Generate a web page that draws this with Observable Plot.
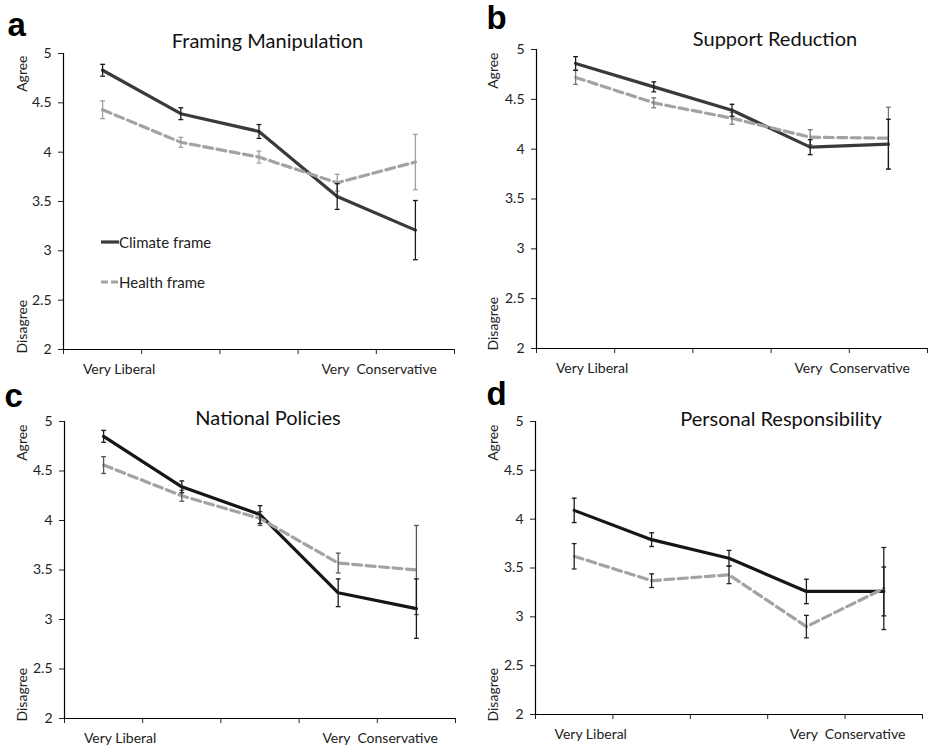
<!DOCTYPE html>
<html><head><meta charset="utf-8">
<script src="https://cdn.jsdelivr.net/npm/d3@7"></script>
<script src="https://cdn.jsdelivr.net/npm/@observablehq/plot@0.6"></script>
<style>
body{margin:0;background:#fff;}
#root{position:relative;width:928px;height:749px;overflow:hidden;font-family:Lato,sans-serif;background:#fff;}
.panel{position:absolute;}
.legend{position:absolute;font-family:Lato,sans-serif;font-size:15px;color:#222;display:flex;align-items:center;height:20px;white-space:nowrap;}
.legend svg{display:block;}
</style></head><body><div id="root"></div>
<script>
// ---- data ----
const levels = [1, 2, 3, 4, 5];
const xBoundaries = [0.5, 1.5, 2.5, 3.5, 4.5, 5.5];
const yTicks = [2, 2.5, 3, 3.5, 4, 4.5, 5];
const xLabels = ["Very Liberal", "Very\u00a0 Conservative"];
const scaleLabels = ["Agree", "Disagree"];
const panelLetters = ["a", "b", "c", "d"];
const panelTitles = ["Framing Manipulation", "Support Reduction", "National Policies", "Personal Responsibility"];
const seriesNames = ["Climate frame", "Health frame"];

const climateMeanA = [4.83, 4.39, 4.21, 3.55, 3.21];
const climateErrA  = [0.06, 0.06, 0.07, 0.13, 0.30];
const healthMeanA  = [4.43, 4.10, 3.95, 3.69, 3.90];
const healthErrA   = [0.09, 0.05, 0.06, 0.085, 0.28];

const climateMeanB = [4.86, 4.625, 4.39, 4.02, 4.05];
const climateErrB  = [0.068, 0.05, 0.06, 0.075, 0.25];
const healthMeanB  = [4.72, 4.465, 4.31, 4.12, 4.11];
const healthErrB   = [0.07, 0.05, 0.06, 0.075, 0.31];

const climateMeanC = [4.85, 4.34, 4.06, 3.27, 3.11];
const climateErrC  = [0.06, 0.06, 0.09, 0.14, 0.30];
const healthMeanC  = [4.56, 4.25, 4.02, 3.57, 3.50];
const healthErrC   = [0.085, 0.055, 0.07, 0.10, 0.45];

const climateMeanD = [4.09, 3.79, 3.60, 3.26, 3.26];
const climateErrD  = [0.125, 0.07, 0.08, 0.125, 0.25];
const healthMeanD  = [3.62, 3.37, 3.43, 2.90, 3.29];
const healthErrD   = [0.13, 0.07, 0.09, 0.115, 0.42];

// ---- layout / styles ----
const panels = [
  {mean: [climateMeanA, healthMeanA], err: [climateErrA, healthErrA],
   left: 0, top: 0, h: 374, mL: 63, mR: 10, mT: 53, mB: 25,
   title: [8.5, -6], letter: [-56, -18], agree: [-41, 2], disagree: [-41, 4],
   climateColor: "#3a3a3a", healthBar: "#a0a0a0"},
  {mean: [climateMeanB, healthMeanB], err: [climateErrB, healthErrB],
   left: 464, top: 0, h: 374, mL: 72, mR: 1, mT: 49, mB: 26,
   title: [43, -4], letter: [-50, -21], agree: [-43, 3], disagree: [-43, 2],
   climateColor: "#3a3a3a", healthBar: "#777"},
  {mean: [climateMeanC, healthMeanC], err: [climateErrC, healthErrC],
   left: 0, top: 374, h: 375, mL: 64, mR: 9, mT: 47, mB: 31,
   title: [8, 3], letter: [-60, -15], agree: [-42, 3], disagree: [-42, 3],
   climateColor: "#161616", healthBar: "#555"},
  {mean: [climateMeanD, healthMeanD], err: [climateErrD, healthErrD],
   left: 464, top: 374, h: 375, mL: 71, mR: 6, mT: 47, mB: 35,
   title: [52, 4], letter: [-49, -17], agree: [-42, 3], disagree: [-42, 7],
   climateColor: "#161616", healthBar: "#222"}
];

const capSymbol = {draw(ctx, size) { const w = Math.sqrt(size / Math.PI); ctx.moveTo(-w, 0); ctx.lineTo(w, 0); }};
const healthLine = "#a3a3a3";

const root = document.getElementById("root");

panels.forEach((p, k) => {
  const rows = (s) => levels.map((x, i) => ({x, mean: p.mean[s][i], lo: p.mean[s][i] - p.err[s][i], hi: p.mean[s][i] + p.err[s][i]}));
  const climate = rows(0), health = rows(1);
  const bars = (data, color) => [
    Plot.ruleX(data, {x: "x", y1: "lo", y2: "hi", stroke: color, strokeWidth: 1.3}),
    Plot.dot(data, {x: "x", y: "lo", symbol: capSymbol, r: 2.4, fill: "none", stroke: color, strokeWidth: 1.3}),
    Plot.dot(data, {x: "x", y: "hi", symbol: capSymbol, r: 2.4, fill: "none", stroke: color, strokeWidth: 1.3})
  ];
  const chart = Plot.plot({
    width: 464, height: p.h,
    marginLeft: p.mL, marginRight: p.mR, marginTop: p.mT, marginBottom: p.mB,
    style: {fontFamily: "Lato, sans-serif", fontSize: "14px", color: "#222", background: "transparent", overflow: "visible"},
    x: {type: "linear", domain: [xBoundaries[0], xBoundaries[xBoundaries.length - 1]], ticks: xBoundaries, tickFormat: () => "", tickSize: 5, label: null},
    y: {domain: [yTicks[0], yTicks[yTicks.length - 1]], ticks: yTicks, tickFormat: d => String(d), tickSize: 5, tickPadding: 7, label: null},
    marks: [
      Plot.ruleY([yTicks[0]], {stroke: "#000", strokeWidth: 1.2}),
      Plot.ruleX([xBoundaries[0]], {stroke: "#000", strokeWidth: 1.2}),
      Plot.line(climate, {x: "x", y: "mean", stroke: p.climateColor, strokeWidth: 3.2}),
      Plot.line(health, {x: "x", y: "mean", stroke: healthLine, strokeWidth: 3.2, strokeDasharray: "9,4.5"}),
      ...bars(health, p.healthBar),
      ...bars(climate, "#1a1a1a"),
      Plot.text([panelTitles[k]], {text: d => d, frameAnchor: "top", lineAnchor: "bottom", dx: p.title[0], dy: p.title[1], fontSize: 20, fill: "#111"}),
      Plot.text([panelLetters[k]], {text: d => d, frameAnchor: "top-left", textAnchor: "start", lineAnchor: "bottom", dx: p.letter[0], dy: p.letter[1], fontSize: 33, fontWeight: "bold", fontFamily: "Liberation Sans, Arial, sans-serif", fill: "#000"}),
      Plot.text([scaleLabels[0]], {text: d => d, frameAnchor: "top-left", rotate: -90, textAnchor: "end", lineAnchor: "middle", dx: p.agree[0], dy: p.agree[1], fontSize: 14, fill: "#222"}),
      Plot.text([scaleLabels[1]], {text: d => d, frameAnchor: "bottom-left", rotate: -90, textAnchor: "start", lineAnchor: "middle", dx: p.disagree[0], dy: p.disagree[1], fontSize: 14, fill: "#222"}),
      Plot.text([{x: levels[0], t: xLabels[0]}], {x: "x", text: "t", frameAnchor: "bottom", lineAnchor: "bottom", textAnchor: "middle", dx: 16.5, dy: 24, fontSize: 14, fill: "#222"}),
      Plot.text([{x: levels[levels.length - 1], t: xLabels[1]}], {x: "x", text: "t", frameAnchor: "bottom", lineAnchor: "bottom", textAnchor: "end", dx: 21.5, dy: 24, fontSize: 14, fill: "#222"})
    ]
  });
  const wrap = document.createElement("div");
  wrap.className = "panel";
  wrap.style.left = p.left + "px";
  wrap.style.top = p.top + "px";
  wrap.appendChild(chart);
  root.appendChild(wrap);
});

// legend (panel a)
const legendItems = [
  {name: seriesNames[0], color: "#3a3a3a", dash: null, top: 232},
  {name: seriesNames[1], color: healthLine, dash: "7,3", top: 272}
];
legendItems.forEach(it => {
  const d = document.createElement("div");
  d.className = "legend";
  d.style.left = "101px";
  d.style.top = it.top + "px";
  d.innerHTML = `<svg width="18" height="6"><line x1="0" y1="3" x2="18" y2="3" stroke="${it.color}" stroke-width="3.2" ${it.dash ? `stroke-dasharray="${it.dash}"` : ""}/></svg><span>${it.name}</span>`;
  root.appendChild(d);
});
</script></body></html>
